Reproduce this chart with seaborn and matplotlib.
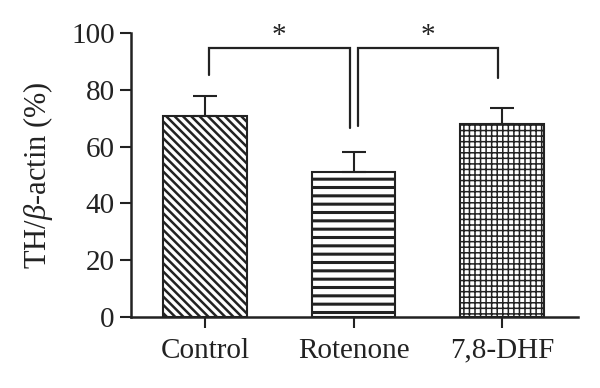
import numpy as np
import pandas as pd
import matplotlib
matplotlib.use("Agg")
import matplotlib.pyplot as plt
import seaborn as sns

# data
groups = ["Control", "Rotenone", "7,8-DHF"]
means = [70.8, 51.0, 67.9]
sd_up = [7.1, 7.0, 5.8]
hatches = ["\\\\\\\\", "--", "+++"]
hatch_lw = [1.8, 2.2, 1.1]

# significance brackets: (left group, right group, left leg bottom, right leg bottom)
brackets = [(0, 1, 85.2, 66.5), (1, 2, 67.2, 84.2)]
bracket_top = 94.8
star_y = 99.0

sns.set_theme(style="ticks")
plt.rcParams["font.family"] = ["Liberation Serif", "DejaVu Serif"]
plt.rcParams["mathtext.fontset"] = "custom"
plt.rcParams["mathtext.it"] = "Liberation Serif:italic"
plt.rcParams["mathtext.rm"] = "Liberation Serif"
plt.rcParams["hatch.linewidth"] = 1.5
ink = "#222222"

df = pd.DataFrame({"group": groups, "value": means})

fig = plt.figure(figsize=(6, 3.88), dpi=100)
ax = fig.add_axes([0.218, 0.183, 0.745, 0.732])

sns.barplot(data=df, x="group", y="value", order=groups, color="white",
            width=0.56, errorbar=None, edgecolor=ink, linewidth=1.5, ax=ax)
for bar, h, lw in zip(ax.patches, hatches, hatch_lw):
    bar.set_hatch(h)
    bar.set_facecolor("white")
    bar.set_edgecolor(ink)
    if hasattr(bar, "set_hatch_linewidth"):
        bar.set_hatch_linewidth(lw)

x = np.arange(len(groups))
ax.errorbar(x, means, yerr=[np.zeros(len(sd_up)), sd_up], fmt="none",
            ecolor=ink, elinewidth=1.5, capsize=8.5, capthick=1.5)

off = 0.027
for i, j, yl, yr in brackets:
    x0, x1 = i + off, j - off
    ax.plot([x0, x0, x1, x1], [yl, bracket_top, bracket_top, yr],
            color=ink, lw=1.6, solid_joinstyle="miter")
    ax.text((x0 + x1) / 2, star_y, "*", ha="center", va="center",
            fontsize=21, color=ink)

ax.set_xlim(-0.5, 2.51)
ax.set_ylim(0, 100)
ax.set_yticks([0, 20, 40, 60, 80, 100])
ax.set_xlabel("")
ax.set_ylabel(r"TH/$\it{\beta}$-actin (%)", fontsize=22, color=ink, labelpad=12)
ax.tick_params(axis="both", labelsize=21, colors=ink, length=8, width=1.5)
ax.tick_params(axis="x", pad=7)
for s in ["left", "bottom"]:
    ax.spines[s].set_linewidth(1.8)
    ax.spines[s].set_color(ink)
sns.despine(ax=ax)

fig.savefig("out.png", dpi=100)
